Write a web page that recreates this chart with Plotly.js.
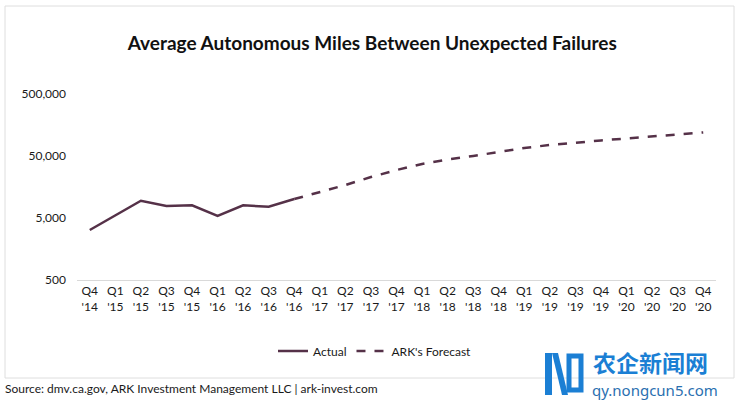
<!DOCTYPE html>
<html>
<head>
<meta charset="utf-8">
<script src="https://cdn.plot.ly/plotly-3.0.1.min.js"></script>
<style>html,body{margin:0;padding:0;background:#fff;}#chart{width:740px;height:401px;}</style>
</head>
<body>
<div id="chart"></div>
<script>
const quarters = ["Q4<br>'14","Q1<br>'15","Q2<br>'15","Q3<br>'15","Q4<br>'15","Q1<br>'16","Q2<br>'16","Q3<br>'16","Q4<br>'16",
  "Q1<br>'17","Q2<br>'17","Q3<br>'17","Q4<br>'17","Q1<br>'18","Q2<br>'18","Q3<br>'18","Q4<br>'18",
  "Q1<br>'19","Q2<br>'19","Q3<br>'19","Q4<br>'19","Q1<br>'20","Q2<br>'20","Q3<br>'20","Q4<br>'20"];
const actualQuarters = quarters.slice(0, 9);
const actualMiles = [3200, 5600, 9500, 7800, 8000, 5400, 8000, 7600, 10100];
const forecastQuarters = quarters.slice(8);
const forecastMiles = [10100, 13100, 17000, 22900, 29700, 37200, 44000, 50000, 58000, 67300, 75300, 82600, 89000, 95900, 103000, 111000, 120000];
const yTickVals = [500, 5000, 50000, 500000];
const yTickText = ["500", "5,000", "50,000", "500,000"];

const lineColor = "#553148";
const font = "Lato, 'Open Sans', sans-serif";

// pixel -> paper helpers for decorative frame / watermark (plot area: x 77..716, y 80..280)
const px = v => (v - 77) / 639;
const py = v => (280 - v) / 200;
const poly = pts => "M" + pts.map(p => px(p[0]) + "," + py(p[1])).join(" L") + " Z";

const traces = [
  {x: actualQuarters, y: actualMiles, name: "Actual", type: "scatter", mode: "lines",
   line: {color: lineColor, width: 2.5}},
  {x: forecastQuarters, y: forecastMiles, name: "ARK's Forecast", type: "scatter", mode: "lines",
   line: {color: lineColor, width: 2.5, dash: "dash"}}
];

const blue = "#1b7fd4";
const layout = {
  width: 740, height: 401,
  margin: {l: 77, r: 24, t: 80, b: 121},
  paper_bgcolor: "#fff", plot_bgcolor: "#fff",
  font: {family: font, size: 12, color: "#1a1a1a"},
  title: {text: "<b>Average Autonomous Miles Between Unexpected Failures</b>",
          font: {family: font, size: 19, color: "#111"}, x: 0.503, xanchor: "center", y: 0.893, yanchor: "middle"},
  xaxis: {type: "category", categoryorder: "array", categoryarray: quarters,
          range: [-0.5, 24.5], showline: true, linecolor: "#d9d9d9", linewidth: 1,
          showgrid: false, zeroline: false, ticks: "", tickangle: 0,
          tickfont: {family: font, size: 12, color: "#1a1a1a"}, fixedrange: true},
  yaxis: {type: "log", range: [Math.log10(500), Math.log10(500) + 200/62],
          tickvals: yTickVals, ticktext: yTickText, showgrid: false, showline: false,
          zeroline: false, ticks: "", ticklabelstandoff: 10,
          tickfont: {family: font, size: 12, color: "#1a1a1a"}, fixedrange: true},
  showlegend: true,
  legend: {orientation: "h", x: px(375), xanchor: "center", y: py(351), yanchor: "middle",
           font: {family: font, size: 12, color: "#1a1a1a"}, itemwidth: 30, tracegroupgap: 0},
  shapes: [
    {type: "rect", xref: "paper", yref: "paper", x0: px(5), x1: px(734), y0: py(378), y1: py(6),
     line: {color: "#dedede", width: 1}, fillcolor: "rgba(0,0,0,0)", layer: "below"},
    {type: "path", xref: "paper", yref: "paper", path: poly([[545,353],[552,353],[552,395],[545,395]]),
     fillcolor: blue, line: {width: 0}},
    {type: "path", xref: "paper", yref: "paper", path: poly([[552,353],[558,353],[568,395],[562,395]]),
     fillcolor: blue, line: {width: 0}},
    {type: "rect", xref: "paper", yref: "paper", x0: px(569), x1: px(581), y0: py(390), y1: py(356),
     fillcolor: "rgba(0,0,0,0)", line: {color: blue, width: 5}}
  ],
  annotations: [
    {text: "Source: dmv.ca.gov, ARK Investment Management LLC | ark-invest.com", xref: "paper", yref: "paper",
     x: px(3), xanchor: "left", y: py(388), yanchor: "middle", showarrow: false,
     font: {family: font, size: 12, color: "#1a1a1a"}},
    {text: "<b>农企新闻网</b>", xref: "paper", yref: "paper", x: px(591), xanchor: "left", y: py(362), yanchor: "middle",
     showarrow: false, font: {family: "'Noto Sans CJK SC'", size: 23, color: blue}},
    {text: "qy.nongcun5.com", xref: "paper", yref: "paper", x: px(590), xanchor: "left", y: py(390), yanchor: "middle",
     showarrow: false, font: {family: "'Noto Sans', sans-serif", size: 15, color: "#2a6fb0"}}
  ]
};

Plotly.newPlot("chart", traces, layout, {displayModeBar: false, staticPlot: true});
</script>
</body>
</html>
